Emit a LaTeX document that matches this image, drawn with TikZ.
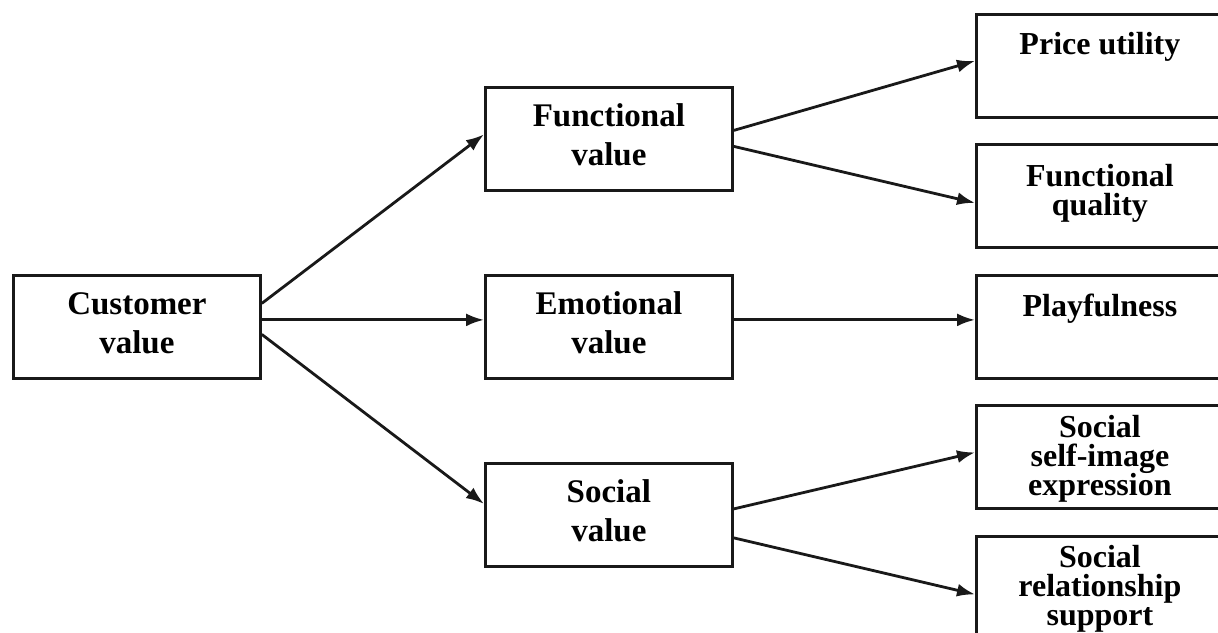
\documentclass[tikz,border=0pt]{standalone}
\usepackage{fontspec}
\setmainfont{Liberation Serif}
\usetikzlibrary{arrows.meta}

% box content: fixed-size parbox, text hung from the top at a given first-baseline depth
\newcommand{\boxtext}[2]{\parbox[c][103pt][t]{247pt}{\centering\lineskiplimit=-100pt\rule{0pt}{#1}#2}}

\tikzset{
  x=1pt, y=1pt,
  vbox/.style={draw=black!90, line width=2.8pt, inner sep=0pt, anchor=north west,
    font=\bfseries\fontsize{33}{39.5}\selectfont},
  leafbox/.style={vbox, font=\bfseries\fontsize{32}{29}\selectfont},
  arr/.style={draw=black!90, line width=2.8pt, -{Latex[length=18pt,width=13pt]}}
}

\begin{document}
\begin{tikzpicture}
  \useasboundingbox (0,0) rectangle (1218,632);
  \clip (0,0) rectangle (1218,632);
  \fill[white] (0,0) rectangle (1218,632);

  % root
  \node[vbox] (cust) at (12,358) {\boxtext{39pt}{Customer\\value}};

  % value dimensions
  \node[vbox] (func) at (484,546) {\boxtext{39pt}{Functional\\value}};
  \node[vbox] (emo)  at (484,358) {\boxtext{39pt}{Emotional\\value}};
  \node[vbox] (soc)  at (484,170) {\boxtext{39pt}{Social\\value}};

  % sub-dimensions
  \node[leafbox] (price) at (975,619) {\boxtext{40pt}{Price utility}};
  \node[leafbox] (fq)    at (975,489) {\boxtext{42pt}{Functional\\quality}};
  \node[leafbox] (play)  at (975,358) {\boxtext{41pt}{Playfulness}};
  \node[leafbox] (self)  at (975,228) {\boxtext{32pt}{Social\\self-image\\expression}};
  \node[leafbox] (rel)   at (975,97)  {\boxtext{31pt}{Social\\relationship\\support}};

  % connectors
  \draw[arr] ([yshift=23.5pt]cust.east) -- ([yshift=4.5pt]func.west);
  \draw[arr] ([yshift=7pt]cust.east)    -- ([yshift=7pt]emo.west);
  \draw[arr] ([yshift=-7.5pt]cust.east) -- ([yshift=11pt]soc.west);

  \draw[arr] ([yshift=8.5pt]func.east) -- ([yshift=5pt]price.west);
  \draw[arr] ([yshift=-7.5pt]func.east) -- ([yshift=-7pt]fq.west);
  \draw[arr] ([yshift=7pt]emo.east) -- ([yshift=7pt]play.west);
  \draw[arr] ([yshift=6pt]soc.east) -- ([yshift=4.5pt]self.west);
  \draw[arr] ([yshift=-23pt]soc.east) -- ([yshift=-6.5pt]rel.west);
\end{tikzpicture}
\end{document}
